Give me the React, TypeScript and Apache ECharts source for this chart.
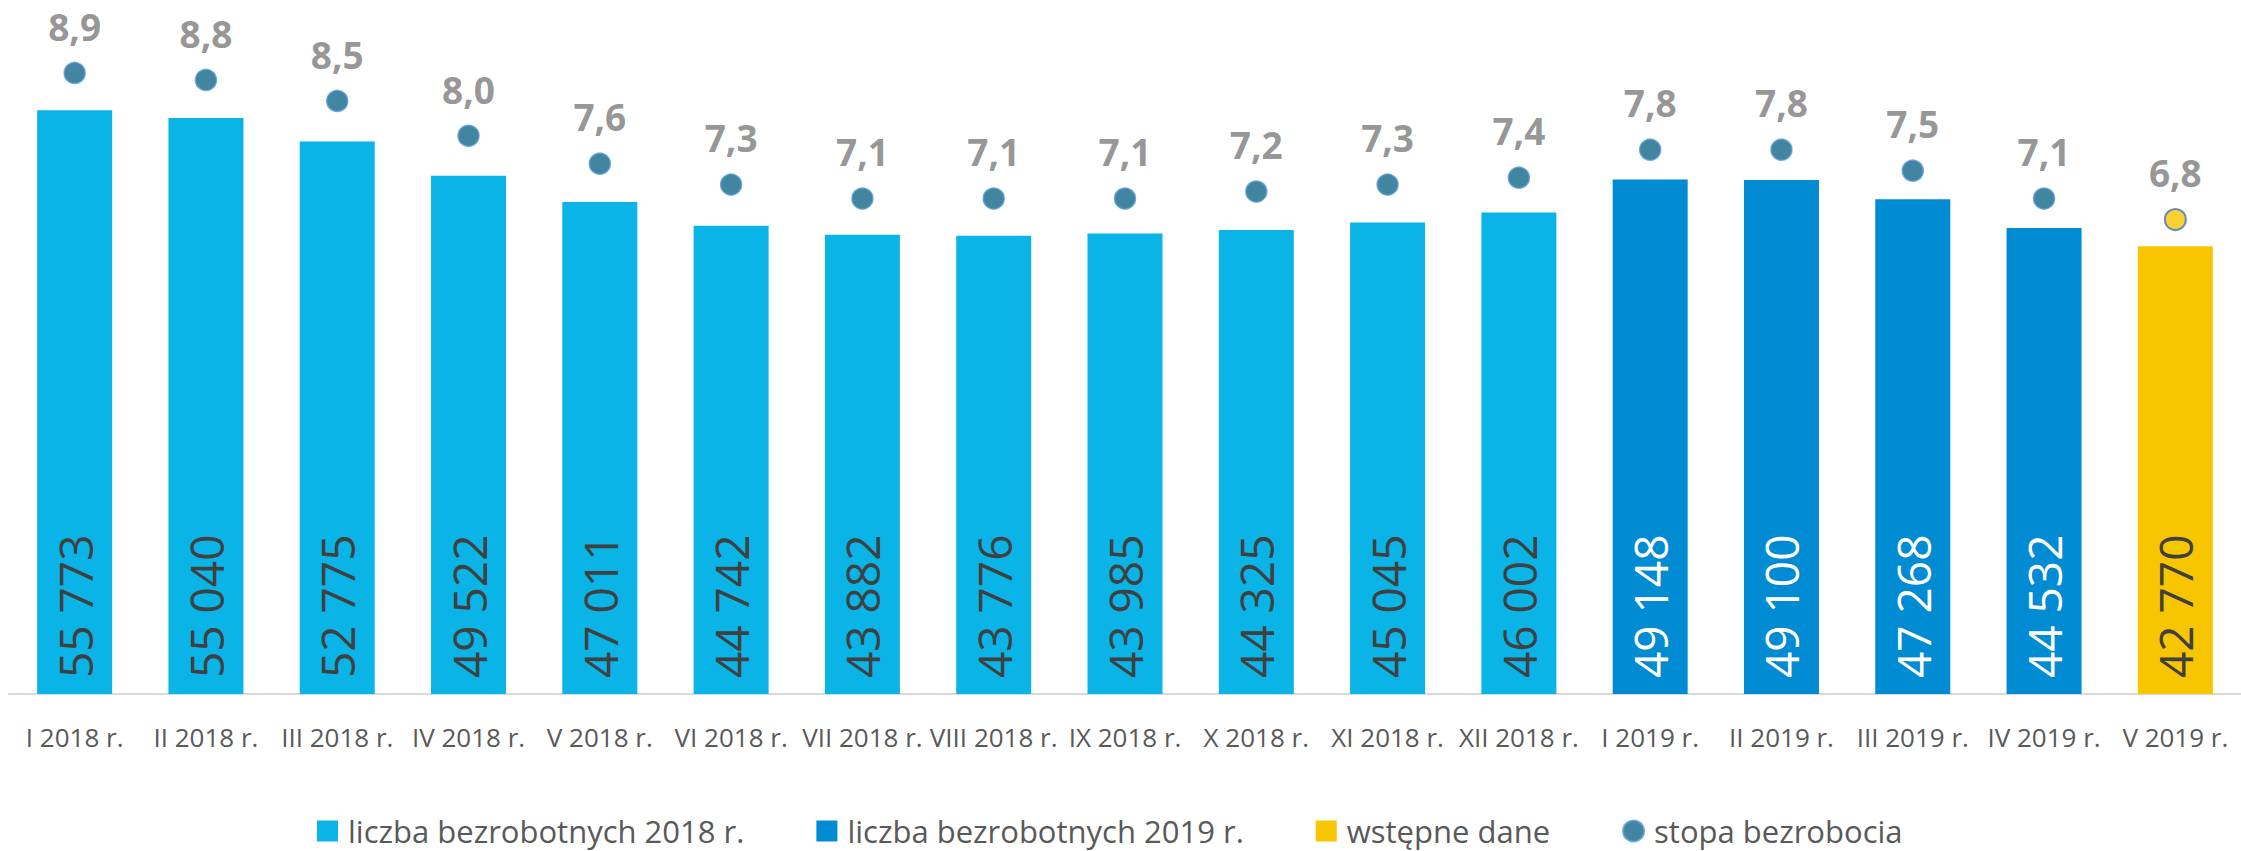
import React, { useEffect, useRef } from "react";
import * as echarts from "echarts";

const categories = [
  "I 2018 r.", "II 2018 r.", "III 2018 r.", "IV 2018 r.", "V 2018 r.", "VI 2018 r.",
  "VII 2018 r.", "VIII 2018 r.", "IX 2018 r.", "X 2018 r.", "XI 2018 r.", "XII 2018 r.",
  "I 2019 r.", "II 2019 r.", "III 2019 r.", "IV 2019 r.", "V 2019 r.",
];
const unemployed2018 = [55773, 55040, 52775, 49522, 47011, 44742, 43882, 43776, 43985, 44325, 45045, 46002, null, null, null, null, null];
const unemployed2019 = [null, null, null, null, null, null, null, null, null, null, null, null, 49148, 49100, 47268, 44532, null];
const preliminary = [null, null, null, null, null, null, null, null, null, null, null, null, null, null, null, null, 42770];
const rate = [8.9, 8.8, 8.5, 8.0, 7.6, 7.3, 7.1, 7.1, 7.1, 7.2, 7.3, 7.4, 7.8, 7.8, 7.5, 7.1, 6.8];
const preliminaryIndex = 16;

const seriesNames = ["liczba bezrobotnych 2018 r.", "liczba bezrobotnych 2019 r.", "wstępne dane", "stopa bezrobocia"];

const FONT = "'Open Sans', 'Noto Sans', sans-serif";

const fmtNum = (v: number) => {
  const th = Math.floor(v / 1000);
  const rest = String(v % 1000).padStart(3, "0");
  return `${th} ${rest}`;
};

const barLabel = (color: string) => ({
  show: true,
  position: "insideBottom",
  distance: 16,
  rotate: 90,
  align: "left",
  verticalAlign: "middle",
  fontSize: 46,
  fontFamily: FONT,
  color,
  formatter: (p: any) => (p.value == null ? "" : fmtNum(p.value)),
});

const toData = (arr: (number | null)[]) => arr.map((v) => (v == null ? "-" : v));

export default function App() {
  const ref = useRef<HTMLDivElement>(null);
  useEffect(() => {
    if (!ref.current) return;
    const chart = echarts.init(ref.current, undefined, { renderer: "svg" });
    const rateData = rate.map((v, i) =>
      i === preliminaryIndex
        ? { value: v, itemStyle: { color: "#F8C600", borderColor: "#4472C4", borderWidth: 2 } }
        : v
    );
    chart.setOption({
      animation: false,
      backgroundColor: "#ffffff",
      textStyle: { fontFamily: FONT },
      grid: { left: 9, right: 0, top: 66, bottom: 157, containLabel: false },
      legend: {
        left: 312,
        top: 810,
        itemWidth: 21,
        itemHeight: 21,
        itemGap: 72,
        textStyle: { fontSize: 31, lineHeight: 32, color: "#595959", fontFamily: FONT, padding: [0, 0, 0, 5] },
        data: [
          { name: seriesNames[0], icon: "rect" },
          { name: seriesNames[1], icon: "rect" },
          { name: seriesNames[2], icon: "rect" },
          { name: seriesNames[3], icon: "circle" },
        ],
      },
      xAxis: {
        type: "category",
        data: categories,
        axisTick: { show: false },
        axisLine: { lineStyle: { color: "#D9D9D9", width: 2 } },
        axisLabel: { fontSize: 26, color: "#595959", margin: 30, interval: 0, fontFamily: FONT },
      },
      yAxis: [
        { type: "value", min: 0, max: 60000, show: false, splitLine: { show: false } },
        { type: "value", min: 0, max: 9, show: false, splitLine: { show: false } },
      ],
      series: [
        {
          name: seriesNames[0],
          type: "bar",
          stack: "total",
          barWidth: 75,
          data: toData(unemployed2018),
          itemStyle: { color: "#0BB4E6" },
          label: barLabel("#404040"),
        },
        {
          name: seriesNames[1],
          type: "bar",
          stack: "total",
          barWidth: 75,
          data: toData(unemployed2019),
          itemStyle: { color: "#008BD2" },
          label: barLabel("#FFFFFF"),
        },
        {
          name: seriesNames[2],
          type: "bar",
          stack: "total",
          barWidth: 75,
          data: toData(preliminary),
          itemStyle: { color: "#F8C600" },
          label: barLabel("#404040"),
        },
        {
          name: seriesNames[3],
          type: "scatter",
          yAxisIndex: 1,
          symbol: "circle",
          symbolSize: 21,
          data: rateData,
          itemStyle: { color: "#11678A", borderColor: "#5B9BD5", borderWidth: 1.5 },
          label: {
            show: true,
            position: "top",
            distance: 17,
            fontSize: 37,
            fontWeight: "bold",
            color: "#7A7A7A",
            fontFamily: FONT,
            formatter: (p: any) => Number(p.value).toFixed(1).replace(".", ","),
          },
          z: 5,
        },
      ],
    });
    return () => chart.dispose();
  }, []);
  return (
    <div
      ref={ref}
      style={{ position: "fixed", left: 0, top: 0, width: 2241, height: 851, background: "#fff" }}
    />
  );
}
